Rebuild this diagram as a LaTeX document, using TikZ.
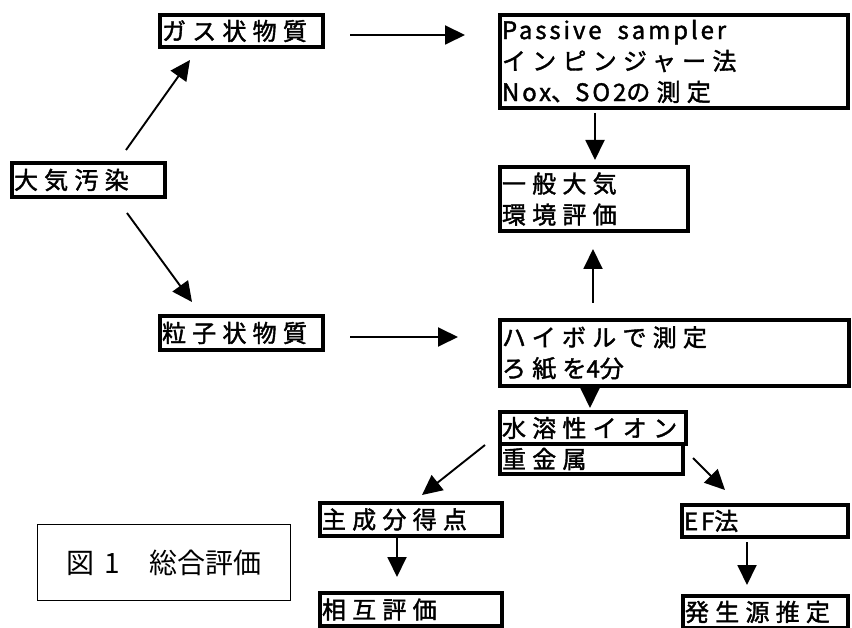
\documentclass[tikz,border=0pt]{standalone}
\usepackage{fontspec}
\usetikzlibrary{arrows.meta,calc}
\newfontfamily\jp{Noto Sans CJK JP}[LetterSpace=26,FakeBold=1.6]
\newfontfamily\jpplain{Noto Sans CJK JP}
\newcommand\lat[1]{{\addfontfeature{LetterSpace=12}#1}}
\tikzset{
  box/.style={draw, line width=3.3pt, anchor=north west, outer sep=0pt,
    inner xsep=2pt, inner ysep=0pt, align=left,
    font=\jp\fontsize{24}{31}\selectfont},
  arr/.style={-{Triangle[length=20pt,width=19pt]}, line width=1.9pt},
}
\begin{document}
\begin{tikzpicture}[x=1pt,y=-1pt]
\useasboundingbox[fill=white] (0,0) rectangle (852,628);

\node[box, text width=159pt, minimum height=32pt] (gas) at (160,15) {ガス状物質};
\node[box, text width=149pt, minimum height=34pt] (taiki) at (12,163) {大気汚染};
\node[box, text width=159pt, minimum height=34pt] (ryushi) at (160,316) {粒子状物質};
\node[box, text width=344pt, minimum height=93pt] (passive) at (500,15)
  {\lat{Passive\ \ sampler}\\インピンジャー法\\\lat{Nox}、\lat{SO2}の測定};
\node[box, text width=184pt, minimum height=64pt] (ippan) at (500,167) {一般大気\\環境評価};
\node[box, text width=345pt, minimum height=66pt] (hivol) at (500,320) {ハイボルで測定\\ろ紙を\lat{4}分};
\node[box, text width=182pt, minimum height=32pt] (suiyo) at (500,412) {水溶性イオン};
\node[box, text width=179pt, minimum height=30pt] (jukin) at (500,444) {重金属};
\node[box, text width=178pt, minimum height=33pt] (shusei) at (320,503) {主成分得点};
\node[box, text width=162pt, minimum height=32pt] (ef) at (682,505) {\lat{EF}法};
\node[box, text width=178pt, minimum height=33pt] (sogo) at (320,593) {相互評価};
\node[box, text width=161pt, minimum height=32pt] (hassei) at (683,596) {発生源推定};
\node[draw, line width=1pt, anchor=north west, minimum width=253pt, minimum height=76pt,
  font=\jpplain\fontsize{28}{30}\selectfont] (fig) at (37,524)
  {図\hspace{10pt}1\hspace{30pt}総合評価};

\draw[arr] ($(taiki.north west)+(114,-13)$) -- ($(gas.south west)+(30,13)$);
\draw[arr] ($(taiki.south west)+(115,16)$) -- ($(ryushi.north west)+(32,-14)$);
\draw[arr] ($(gas.east)+(27,4)$) -- ($(gas.east -| passive.west)+(-35,4)$);
\draw[arr] ($(ryushi.east)+(27,4)$) -- ($(ryushi.east -| hivol.west)+(-42,4)$);
\draw[arr] ($(passive.south west)+(95,5)$) -- ($(ippan.north west)+(95,-7)$);
\draw[arr] ($(hivol.north west)+(93,-17)$) -- ($(ippan.south west)+(93,18)$);
\draw[arr] ($(hivol.south west)+(90,0)$) -- ($(suiyo.north west)+(90,-4)$);
\draw[arr] ($(suiyo.south west)+(-15,1)$) -- ($(shusei.north west)+(102,-8)$);
\draw[arr] ($(jukin.east)+(10,-1)$) -- ($(ef.north west)+(43,-15)$);
\draw[arr] ($(shusei.south west)+(77,2)$) -- ($(sogo.north west)+(77,-16)$);
\draw[arr] ($(ef.south west)+(65,5)$) -- ($(hassei.north west)+(64,-11)$);
\end{tikzpicture}
\end{document}
